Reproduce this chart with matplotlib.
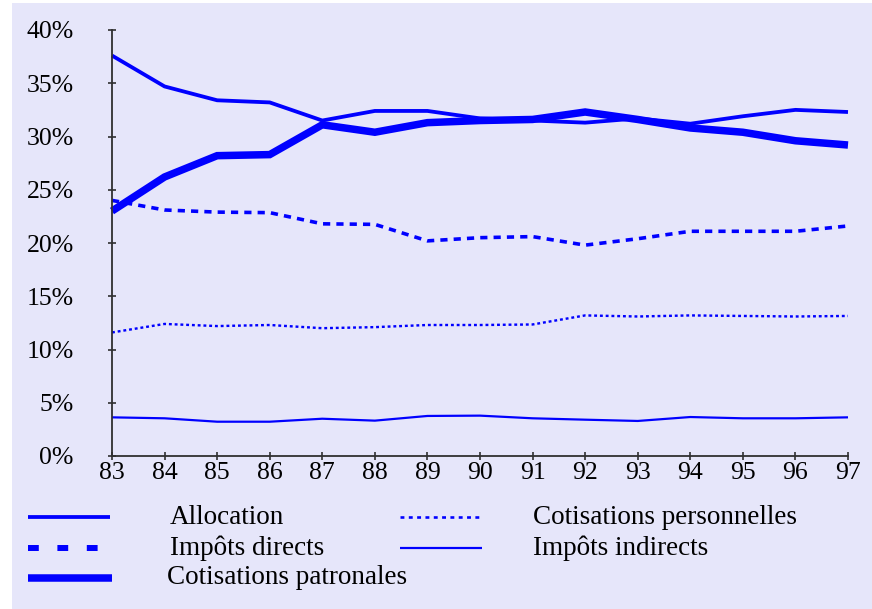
import matplotlib
matplotlib.use("Agg")
import matplotlib.pyplot as plt
from matplotlib.lines import Line2D
from matplotlib.patches import Rectangle
from matplotlib.ticker import FuncFormatter

years = [83, 84, 85, 86, 87, 88, 89, 90, 91, 92, 93, 94, 95, 96, 97]
year_labels = [str(y) for y in years]
allocation = [37.6, 34.7, 33.4, 33.2, 31.5, 32.4, 32.4, 31.7, 31.5, 31.3, 31.7, 31.2, 31.9, 32.5, 32.3]
impots_directs = [24.0, 23.1, 22.9, 22.85, 21.8, 21.75, 20.2, 20.5, 20.6, 19.8, 20.4, 21.1, 21.1, 21.1, 21.6]
cot_patronales = [23.0, 26.2, 28.2, 28.3, 31.1, 30.4, 31.3, 31.5, 31.6, 32.3, 31.6, 30.8, 30.4, 29.6, 29.2]
cot_personnelles = [11.6, 12.4, 12.2, 12.3, 12.0, 12.1, 12.3, 12.3, 12.35, 13.2, 13.1, 13.2, 13.15, 13.1, 13.15]
impots_indirects = [3.63, 3.54, 3.22, 3.22, 3.5, 3.32, 3.76, 3.79, 3.54, 3.41, 3.29, 3.66, 3.54, 3.54, 3.63]
y_ticks = [0, 5, 10, 15, 20, 25, 30, 35, 40]

W, H = 872, 609
BLUE = "#0000FF"
BG = "#E6E6FA"
plt.rcParams['font.family'] = ['Liberation Serif', 'DejaVu Serif']

fig = plt.figure(figsize=(W / 100, H / 100), dpi=100)
fig.patch.set_facecolor("white")
fig.add_artist(Rectangle((12 / W, 0), 1 - 12 / W, 1 - 3 / H, transform=fig.transFigure,
                         facecolor=BG, edgecolor="none", zorder=-10))

ax = fig.add_axes([112 / W, 1 - 456 / H, (848 - 112) / W, (456 - 30) / H])
ax.set_facecolor("none")

px = 0.72  # points per pixel
series = [
    ("Allocation", allocation, dict(lw=3.8 * px, ls="-")),
    ("Impôts directs", impots_directs, dict(lw=3.6 * px, ls=(0, (2.0, 1.7)))),
    ("Cotisations patronales", cot_patronales, dict(lw=7.5 * px, ls="-")),
    ("Cotisations personnelles", cot_personnelles, dict(lw=2.4 * px, ls=(0, (1.2, 1.2)))),
    ("Impôts indirects", impots_indirects, dict(lw=2.2 * px, ls="-")),
]
for name, vals, st in series:
    ax.plot(years, vals, color=BLUE, clip_on=False, solid_joinstyle="miter",
            dash_capstyle="butt", solid_capstyle="butt", **st)

ax.set_xlim(83, 97)
ax.set_ylim(0, 40)
ax.set_xticks(years)
ax.set_xticklabels(year_labels)
ax.set_yticks(y_ticks)
ax.yaxis.set_major_formatter(FuncFormatter(lambda v, p: f"{v:.0f}%"))
for s in ["top", "right"]:
    ax.spines[s].set_visible(False)
for s in ["left", "bottom"]:
    ax.spines[s].set_color("#303030")
    ax.spines[s].set_linewidth(1.3)
ax.tick_params(axis="both", direction="inout", length=6, width=1.1, color="#202020",
               labelsize=18.5, labelcolor="black")
ax.tick_params(axis="y", pad=24.5)
ax.tick_params(axis="x", pad=1)

# legend, drawn manually in figure pixel coordinates
def fx(x):
    return x / W

def fy(y):
    return 1 - y / H

legend_items = [
    (28, 110, 517, 170, "Allocation", dict(lw=3.8 * px, ls="-")),
    (28, 110, 548, 170, "Impôts directs", dict(lw=6 * px, ls=(0, (1.8, 3.1)))),
    (28, 112, 578, 167, "Cotisations patronales", dict(lw=7.5 * px, ls="-")),
    (400, 482, 517, 533, "Cotisations personnelles", dict(lw=2.6 * px, ls=(0, (1.5, 1.7)))),
    (400, 482, 548, 533, "Impôts indirects", dict(lw=2.2 * px, ls="-")),
]
for x0, x1, yy, tx, label, st in legend_items:
    fig.add_artist(Line2D([fx(x0), fx(x1)], [fy(yy), fy(yy)], transform=fig.transFigure,
                          color=BLUE, dash_capstyle="butt", solid_capstyle="butt", **st))
    fig.text(fx(tx), fy(yy), label, fontsize=19.5, va="center", ha="left", color="black")

fig.savefig("out.png", dpi=100)
